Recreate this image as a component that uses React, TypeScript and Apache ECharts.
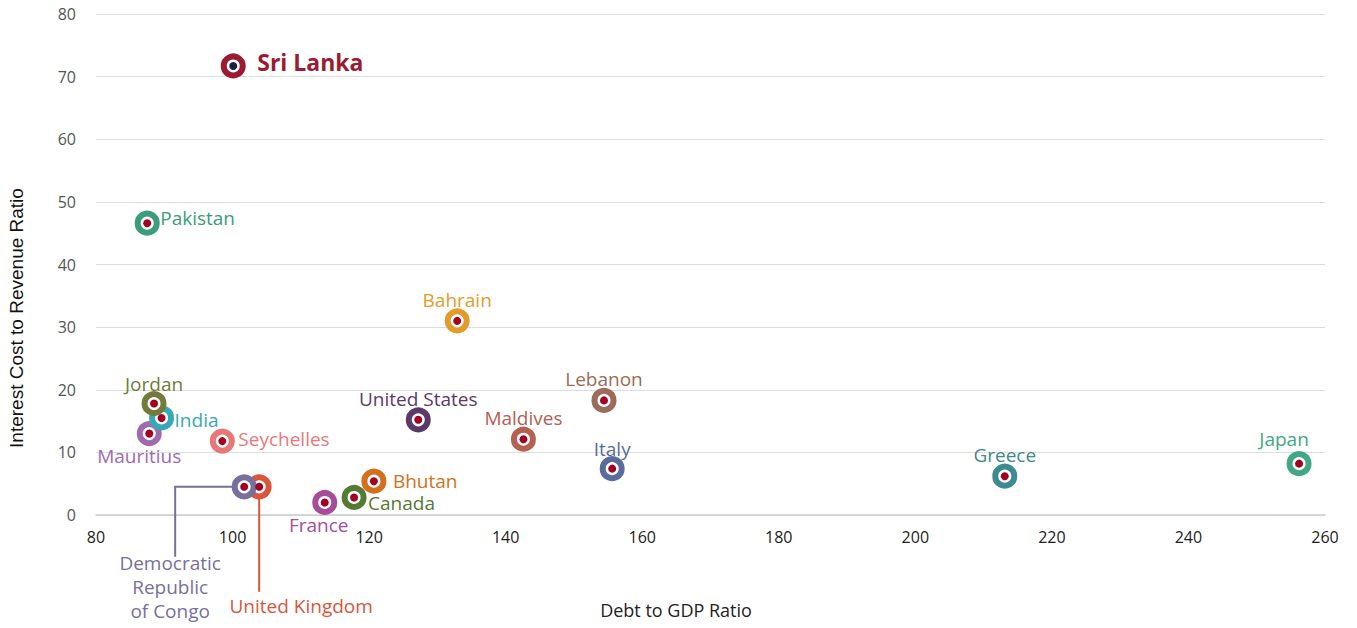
import React, { useEffect, useRef } from "react";
import * as echarts from "echarts";

const countries = [
  "Sri Lanka", "Pakistan", "Bahrain", "Mauritius", "India", "Jordan", "Seychelles",
  "United States", "United Kingdom", "Democratic\nRepublic\nof Congo", "France", "Canada", "Bhutan",
  "Maldives", "Lebanon", "Italy", "Greece", "Japan",
];
const debtToGdp = [100.1, 87.5, 132.9, 87.8, 89.6, 88.5, 98.5, 127.2, 103.9, 101.7, 113.5, 117.8, 120.7, 142.6, 154.4, 155.6, 213.1, 256.2];
const interestToRevenue = [71.7, 46.6, 31.0, 13.0, 15.5, 17.8, 11.8, 15.2, 4.5, 4.5, 2.0, 2.8, 5.4, 12.1, 18.3, 7.4, 6.2, 8.2];
const colors = [
  "#9b1b32", "#3a9d7b", "#e39b2c", "#a06ab0", "#36a9b5", "#6f7c3a", "#e87878",
  "#5b3a68", "#d9553b", "#77709e", "#a64d9a", "#557b33", "#d2711b",
  "#b56052", "#9c6b5a", "#5a6c9b", "#3d8a91", "#42a884",
];
const xTicks = { min: 80, max: 260, interval: 20 };
const yTicks = { min: 0, max: 80, interval: 10 };

// label placement (style only): [align, dx, dy]
const labelPlace: Record<string, [string, number, number]> = {
  "Sri Lanka": ["left", 24, -4],
  "Pakistan": ["left", 13, -5],
  "Bahrain": ["center", 0, -21],
  "Mauritius": ["center", -10, 22],
  "India": ["left", 13, 2],
  "Jordan": ["center", 0, -20],
  "Seychelles": ["left", 16, -2],
  "United States": ["center", 0, -21],
  "United Kingdom": ["center", 42, 119],
  "Democratic\nRepublic\nof Congo": ["center", -74, 100],
  "France": ["center", -6, 23],
  "Canada": ["left", 14, 6],
  "Bhutan": ["left", 19, 0],
  "Maldives": ["center", 0, -21],
  "Lebanon": ["center", 0, -21],
  "Italy": ["center", 0, -20],
  "Greece": ["center", 0, -21],
  "Japan": ["center", -15, -25],
};

const FONT = "'Open Sans', sans-serif";

export default function App() {
  const ref = useRef<HTMLDivElement>(null);
  useEffect(() => {
    document.body.style.margin = "0";
    if (!ref.current) return;
    const chart = echarts.init(ref.current, null, { renderer: "svg" });
    const ringData = countries.map((c, i) => {
      const [align, dx, dy] = labelPlace[c];
      const isSL = c === "Sri Lanka";
      return {
        name: c,
        value: [debtToGdp[i], interestToRevenue[i]],
        itemStyle: { color: "#ffffff", borderColor: colors[i], borderWidth: 6, opacity: 1 },
        label: {
          show: true,
          formatter: c,
          position: "inside",
          align,
          verticalAlign: "middle",
          offset: [dx, dy],
          color: colors[i],
          fontFamily: FONT,
          fontSize: isSL ? 23 : 19,
          fontWeight: isSL ? "bold" : "normal",
          lineHeight: isSL ? 26 : 24,
        },
      };
    });
    const dotData = countries.map((c, i) => ({
      value: [debtToGdp[i], interestToRevenue[i]],
      itemStyle: { color: c === "Sri Lanka" ? "#14233f" : "#a30021", opacity: 1 },
    }));
    chart.setOption({
      animation: false,
      grid: { left: 96, right: 32, top: 14, bottom: 113 },
      xAxis: {
        type: "value",
        min: xTicks.min,
        max: xTicks.max,
        interval: xTicks.interval,
        axisLine: { show: true, lineStyle: { color: "#cccccc", width: 1.5 } },
        axisTick: { show: false },
        splitLine: { show: false },
        axisLabel: { color: "#222222", fontSize: 16, fontFamily: FONT, margin: 14 },
      },
      yAxis: {
        type: "value",
        min: yTicks.min,
        max: yTicks.max,
        interval: yTicks.interval,
        axisLine: { show: false },
        axisTick: { show: false },
        splitLine: { show: true, lineStyle: { color: "#dddddd", width: 1.2 } },
        axisLabel: { color: "#555555", fontSize: 16, fontFamily: FONT, margin: 20 },
      },
      series: [
        {
          type: "scatter",
          symbol: "circle",
          symbolSize: 19,
          data: ringData,
          itemStyle: { opacity: 1 },
          z: 3,
        },
        {
          type: "scatter",
          symbol: "circle",
          symbolSize: 8,
          data: dotData,
          itemStyle: { opacity: 1 },
          silent: true,
          z: 4,
        },
      ],
    });

    const pt = (name: string) => {
      const i = countries.indexOf(name);
      return chart.convertToPixel({ gridIndex: 0 }, [debtToGdp[i], interestToRevenue[i]]) as number[];
    };
    const drc = pt("Democratic\nRepublic\nof Congo");
    const uk = pt("United Kingdom");
    chart.setOption({
      graphic: [
        {
          type: "polyline",
          silent: true,
          z: 1,
          shape: { points: [[drc[0] - 12, drc[1]], [drc[0] - 69, drc[1]], [drc[0] - 69, drc[1] + 70]] },
          style: { stroke: colors[9], lineWidth: 2, fill: null },
        },
        {
          type: "line",
          silent: true,
          z: 1,
          shape: { x1: uk[0], y1: uk[1] + 12, x2: uk[0], y2: uk[1] + 105 },
          style: { stroke: colors[8], lineWidth: 2 },
        },
        {
          type: "text",
          x: 676,
          y: 610,
          style: {
            text: "Debt to GDP Ratio",
            fill: "#222222",
            font: `18px ${FONT}`,
            align: "center",
            verticalAlign: "middle",
          },
        },
        {
          type: "text",
          x: 16,
          y: 318,
          rotation: Math.PI / 2,
          style: {
            text: "Interest Cost to Revenue Ratio",
            fill: "#111111",
            font: "19px 'Liberation Sans', Arial, sans-serif",
            align: "center",
            verticalAlign: "middle",
          },
        },
      ],
    });
    return () => chart.dispose();
  }, []);
  return <div ref={ref} style={{ width: 1357, height: 628 }} />;
}
